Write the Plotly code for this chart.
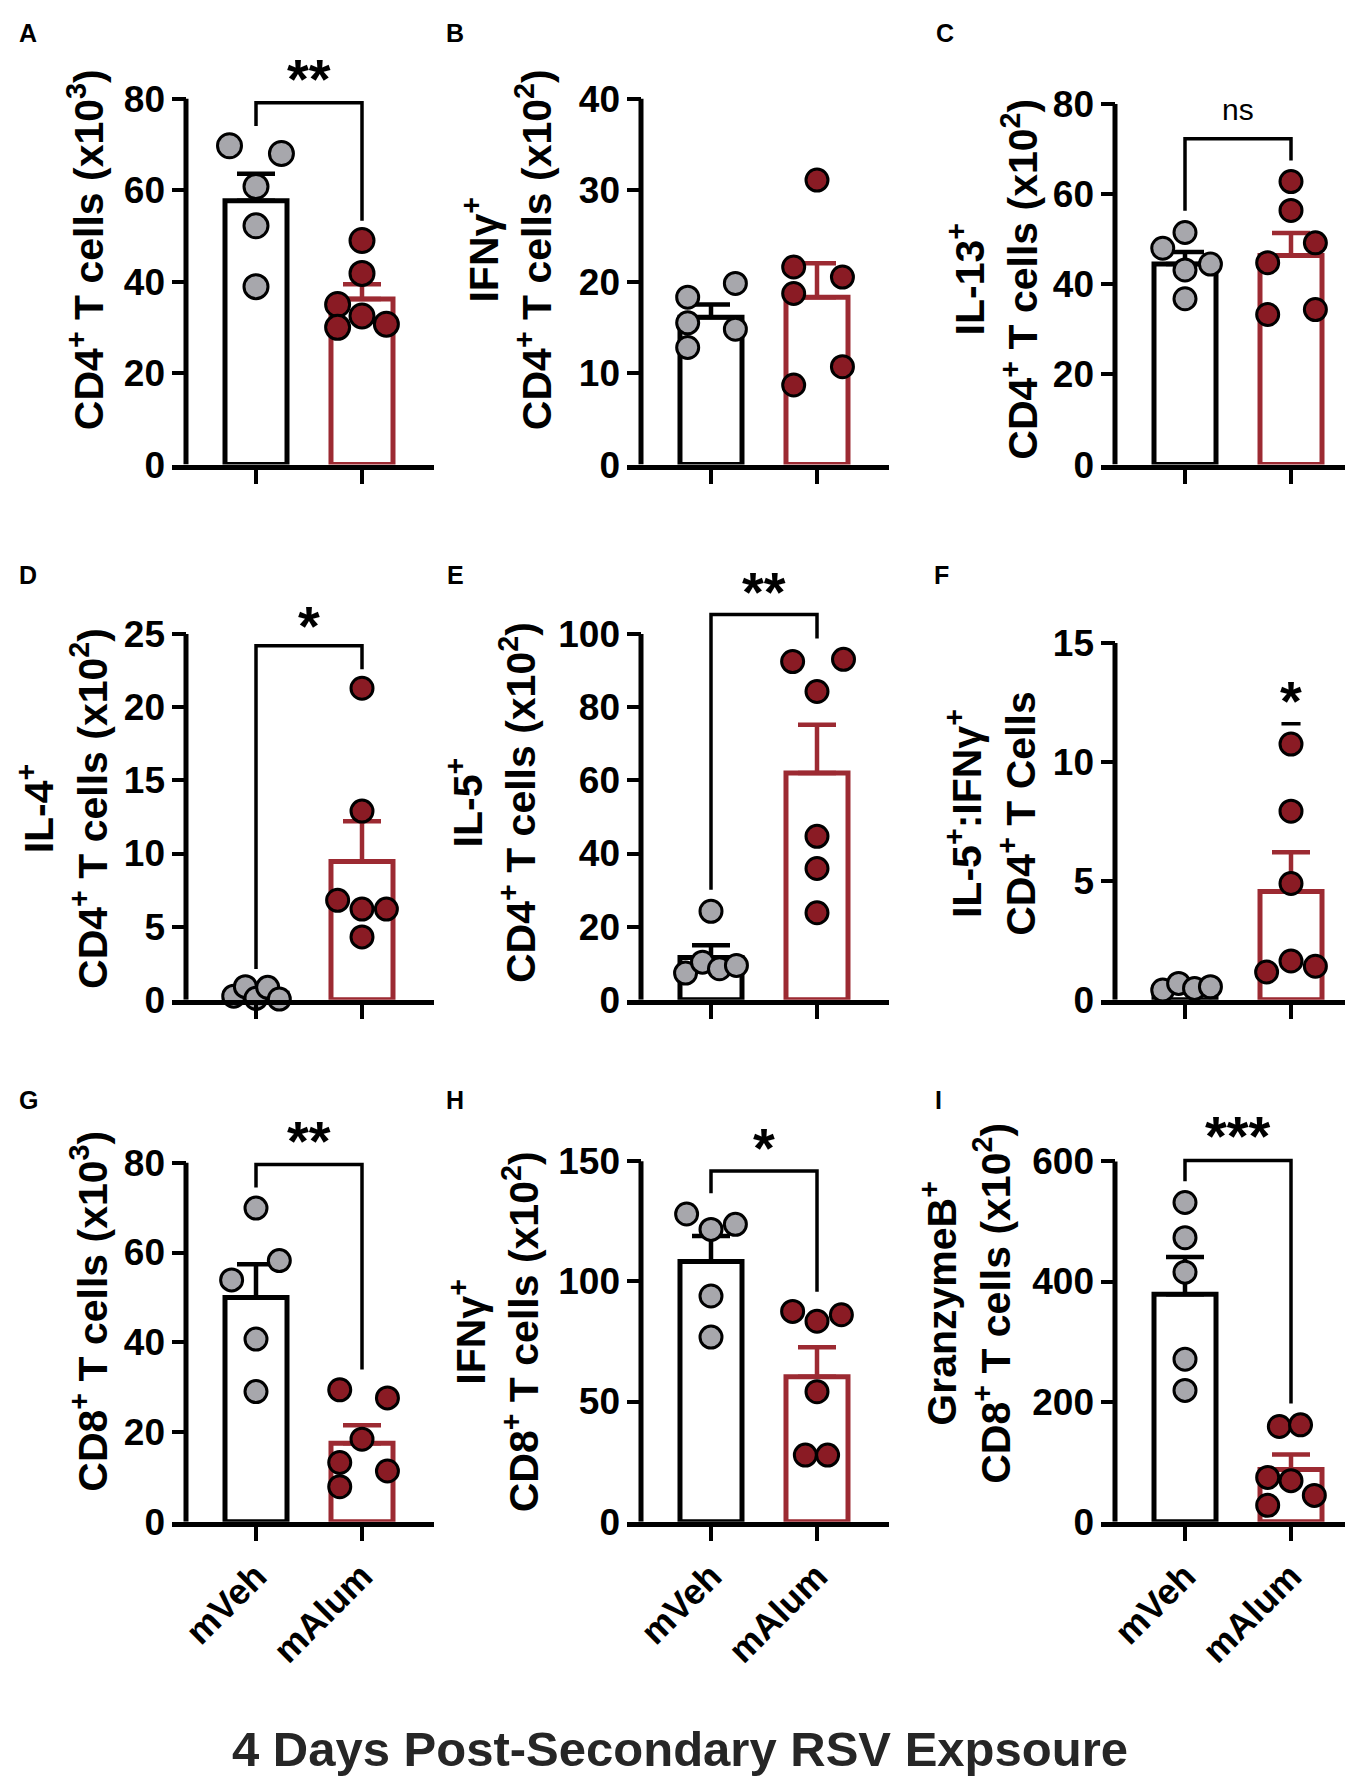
import plotly.graph_objects as go

W, H = 1353, 1790
GROUPS = ["mVeh", "mAlum"]

# ------------------------------------------------------------------
# DATA
# ------------------------------------------------------------------
A_mVeh = [69.7, 68.0, 60.8, 52.2, 38.9]
A_mAlum = [49.0, 41.8, 35.0, 32.5, 30.7, 30.0]
A_mean = [57.7, 36.2]
A_sem = [5.9, 3.2]
A_ticks = [0, 20, 40, 60, 80]
A_bracket = [74.0, 79.1, 53.3]
A_sig, A_sig_y = "**", 84.4

B_mVeh = [18.3, 19.8, 15.5, 14.8, 12.8]
B_mAlum = [31.1, 21.6, 20.5, 18.7, 10.7, 8.7]
B_mean = [16.1, 18.3]
B_sem = [1.4, 3.7]
B_ticks = [0, 10, 20, 30, 40]

C_mVeh = [51.5, 48.0, 44.5, 43.2, 36.8]
C_mAlum = [62.8, 56.4, 49.2, 44.8, 33.3, 34.4]
C_mean = [44.5, 46.4]
C_sem = [2.7, 5.0]
C_ticks = [0, 20, 40, 60, 80]
C_bracket = [56.3, 72.3, 67.5]
C_sig, C_sig_y = "ns", 78.4

D_mVeh = [0.25, 0.9, 0.1, 0.85, 0.05]
D_mAlum = [21.3, 12.9, 6.8, 6.2, 6.2, 4.3]
D_mean = [0.45, 9.45]
D_sem = [0.16, 2.75]
D_ticks = [0, 5, 10, 15, 20, 25]
D_bracket = [2.1, 24.2, 22.6]
D_sig, D_sig_y = "*", 25.6

E_mVeh = [24.2, 7.3, 10.3, 8.5, 9.4]
E_mAlum = [92.5, 93.1, 84.3, 44.7, 35.9, 23.8]
E_mean = [11.6, 62.0]
E_sem = [3.3, 13.2]
E_ticks = [0, 20, 40, 60, 80, 100]
E_bracket = [30.1, 105.4, 98.8]
E_sig, E_sig_y = "**", 111.7

F_mVeh = [0.41, 0.69, 0.48, 0.55]
F_mAlum = [10.75, 7.93, 4.89, 1.63, 1.17, 1.41]
F_mean = [0.53, 4.55]
F_sem = [0.06, 1.65]
F_ticks = [0, 5, 10, 15]
F_mark_y = 11.6
F_sig, F_sig_y = "*", 12.6

G_mVeh = [69.9, 58.2, 53.9, 40.7, 29.0]
G_mAlum = [29.4, 27.6, 18.4, 13.2, 11.3, 7.8]
G_mean = [50.0, 17.5]
G_sem = [7.4, 4.0]
G_ticks = [0, 20, 40, 60, 80]
G_bracket = [74.5, 79.6, 33.9]
G_sig, G_sig_y = "**", 84.9

H_mVeh = [128.0, 123.7, 121.6, 93.9, 76.8]
H_mAlum = [87.5, 86.1, 83.4, 54.1, 27.7, 27.7]
H_mean = [108.3, 60.3]
H_sem = [10.6, 12.3]
H_ticks = [0, 50, 100, 150]
H_bracket = [136.6, 145.9, 95.7]
H_sig, H_sig_y = "*", 155.7

I_mVeh = [531.6, 473.0, 415.6, 270.7, 218.7]
I_mAlum = [158.6, 161.3, 73.8, 68.4, 43.8, 27.3]
I_mean = [379.0, 87.0]
I_sem = [62.0, 25.0]
I_ticks = [0, 200, 400, 600]
I_bracket = [567.2, 601.6, 196.9]
I_sig, I_sig_y = "***", 642.6

TITLES = {
    "A": "CD4<sup>+</sup> T cells (x10<sup>3</sup>)",
    "B": "IFNγ<sup>+</sup><br>CD4<sup>+</sup> T cells (x10<sup>2</sup>)",
    "C": "IL-13<sup>+</sup><br>CD4<sup>+</sup> T cells (x10<sup>2</sup>)",
    "D": "IL-4<sup>+</sup><br>CD4<sup>+</sup> T cells (x10<sup>2</sup>)",
    "E": "IL-5<sup>+</sup><br>CD4<sup>+</sup> T cells (x10<sup>2</sup>)",
    "F": "IL-5<sup>+</sup>:IFNγ<sup>+</sup><br>CD4<sup>+</sup> T Cells",
    "G": "CD8<sup>+</sup> T cells (x10<sup>3</sup>)",
    "H": "IFNγ<sup>+</sup><br>CD8<sup>+</sup> T cells (x10<sup>2</sup>)",
    "I": "GranzymeB<sup>+</sup><br>CD8<sup>+</sup> T cells (x10<sup>2</sup>)",
}
MAIN_TITLE = "4 Days Post-Secondary RSV Expsoure"

PANELS = [
    dict(key="A", veh=A_mVeh, alum=A_mAlum, mean=A_mean, sem=A_sem, ticks=A_ticks, bracket=A_bracket, sig=A_sig, sig_y=A_sig_y, sig_x=0.5),
    dict(key="B", veh=B_mVeh, alum=B_mAlum, mean=B_mean, sem=B_sem, ticks=B_ticks, bracket=None, sig=None),
    dict(key="C", veh=C_mVeh, alum=C_mAlum, mean=C_mean, sem=C_sem, ticks=C_ticks, bracket=C_bracket, sig=C_sig, sig_y=C_sig_y, sig_x=0.5),
    dict(key="D", veh=D_mVeh, alum=D_mAlum, mean=D_mean, sem=D_sem, ticks=D_ticks, bracket=D_bracket, sig=D_sig, sig_y=D_sig_y, sig_x=0.5),
    dict(key="E", veh=E_mVeh, alum=E_mAlum, mean=E_mean, sem=E_sem, ticks=E_ticks, bracket=E_bracket, sig=E_sig, sig_y=E_sig_y, sig_x=0.5),
    dict(key="F", veh=F_mVeh, alum=F_mAlum, mean=F_mean, sem=F_sem, ticks=F_ticks, bracket=None, sig=F_sig, sig_y=F_sig_y, sig_x=1.0),
    dict(key="G", veh=G_mVeh, alum=G_mAlum, mean=G_mean, sem=G_sem, ticks=G_ticks, bracket=G_bracket, sig=G_sig, sig_y=G_sig_y, sig_x=0.5),
    dict(key="H", veh=H_mVeh, alum=H_mAlum, mean=H_mean, sem=H_sem, ticks=H_ticks, bracket=H_bracket, sig=H_sig, sig_y=H_sig_y, sig_x=0.5),
    dict(key="I", veh=I_mVeh, alum=I_mAlum, mean=I_mean, sem=I_sem, ticks=I_ticks, bracket=I_bracket, sig=I_sig, sig_y=I_sig_y, sig_x=0.5),
]

# ------------------------------------------------------------------
# LAYOUT / STYLE (geometry in pixels, jitter offsets)
# ------------------------------------------------------------------
UNIT = 106.0                 # px per category step
XL = -84 / UNIT              # left edge of plot area (end of y ticks)
SPINE = -70 / UNIT           # y axis spine position
XR = [1.68, 1.68, 1.66]      # right end of x axis per column
COL_LEFT = [164, 619, 1093]
ROW_ZERO = [456, 1000, 1530.5]

GEOM = {
    "A": dict(row=0, col=0, top_px=84, rtop=90, ms=24, title=(78, 238), letter=(20, 17)),
    "B": dict(row=0, col=1, top_px=84, rtop=42, ms=22, title=(500, 238), letter=(447, 17)),
    "C": dict(row=0, col=2, top_px=89.5, rtop=84, ms=22, title=(985, 268), letter=(937, 17)),
    "D": dict(row=1, col=0, top_px=628.3, rtop=27.5, ms=22, title=(55, 806), letter=(20, 568)),
    "E": dict(row=1, col=1, top_px=628.3, rtop=118, ms=22, title=(484, 800), letter=(447, 568)),
    "F": dict(row=1, col=2, top_px=637.3, rtop=15.5, ms=22, title=(983, 811), letter=(933, 568)),
    "G": dict(row=2, col=0, top_px=1165.7, rtop=90, ms=22, title=(81, 1317), letter=(20, 1102)),
    "H": dict(row=2, col=1, top_px=1164, rtop=165, ms=22, title=(487, 1338), letter=(447, 1102)),
    "I": dict(row=2, col=2, top_px=1164.3, rtop=670, ms=22, title=(958, 1308), letter=(930, 1102)),
}

JITTER = {
    "A": ([-0.25, 0.24, 0, 0, 0], [0, 0, -0.23, 0, 0.23, -0.23]),
    "B": ([-0.22, 0.23, -0.22, 0.23, -0.22], [0, -0.22, 0.24, -0.22, 0.24, -0.22]),
    "C": ([0, -0.21, 0.24, 0, 0], [0, 0, 0.23, -0.22, -0.22, 0.23]),
    "D": ([-0.21, -0.1, 0, 0.11, 0.22], [0, 0, -0.23, 0, 0.23, 0]),
    "E": ([0, -0.24, -0.08, 0.08, 0.24], [-0.23, 0.25, 0, 0, 0, 0]),
    "F": ([-0.21, -0.06, 0.09, 0.24], [0, 0, 0, 0, -0.23, 0.23]),
    "G": ([0, 0.22, -0.23, 0, 0], [-0.21, 0.24, 0, -0.21, 0.24, -0.21]),
    "H": ([-0.23, 0.23, 0, 0, 0], [-0.23, 0.23, 0, 0, -0.11, 0.1]),
    "I": ([0, 0, 0, 0, 0], [-0.11, 0.09, -0.22, 0, 0.22, -0.22]),
}

FONT = "Liberation Sans, Arial, Helvetica, sans-serif"
BLACK = "#000000"
RED_BAR = "#9c2a32"
RED_DOT = "#8a1b24"
GRAY_DOT = "#a7a7ac"
BAR_W = 0.585

fig = go.Figure()
layout_axes = {}
shapes = []
annotations = []

for i, p in enumerate(PANELS):
    n = i + 1
    sfx = "" if n == 1 else str(n)
    xa, ya = "x" + sfx, "y" + sfx
    g = GEOM[p["key"]]
    row, col = g["row"], g["col"]

    left = COL_LEFT[col]
    right = left + (XR[col] - XL) * UNIT
    xdom = [left / W, min(right / W, 1.0)]
    zero = ROW_ZERO[row]
    ppu = (zero - g["top_px"]) / p["ticks"][-1]
    ydom = [(H - zero) / H, min((H - (zero - g["rtop"] * ppu)) / H, 1.0)]

    # bars with upward SEM error bars
    for k, color in enumerate([BLACK, RED_BAR]):
        fig.add_trace(go.Bar(
            x=[k], y=[p["mean"][k]], width=BAR_W, xaxis=xa, yaxis=ya,
            marker=dict(color="white", line=dict(color=color, width=5)),
            error_y=dict(type="data", array=[p["sem"][k]], arrayminus=[0],
                         symmetric=False, color=color, thickness=4.5, width=19),
            showlegend=False, hoverinfo="skip"))

    # individual points
    dxv, dxa = JITTER[p["key"]]
    for k, (vals, dx, fill) in enumerate([(p["veh"], dxv, GRAY_DOT), (p["alum"], dxa, RED_DOT)]):
        fig.add_trace(go.Scatter(
            x=[k + d for d in dx], y=vals, mode="markers", xaxis=xa, yaxis=ya,
            cliponaxis=False,
            marker=dict(size=g["ms"], color=fill, line=dict(color=BLACK, width=3)),
            showlegend=False, hoverinfo="skip"))

    show_lbl = row == 2
    layout_axes["xaxis" + sfx] = dict(
        domain=xdom, range=[XL, XR[col]], anchor=ya,
        showline=True, linewidth=5, linecolor=BLACK,
        ticks="outside", ticklen=14, tickwidth=4, tickcolor=BLACK,
        tickmode="array", tickvals=[0, 1], ticktext=GROUPS,
        showticklabels=show_lbl, tickangle=-45,
        tickfont=dict(family=FONT, size=36, color=BLACK, weight="bold"),
        showgrid=False, zeroline=False, fixedrange=True)
    layout_axes["yaxis" + sfx] = dict(
        domain=ydom, range=[0, g["rtop"]], anchor=xa,
        showline=False,
        ticks="inside", ticklen=14, tickwidth=4, tickcolor=BLACK,
        tickmode="array", tickvals=p["ticks"],
        ticklabelstandoff=6,
        tickfont=dict(family=FONT, size=37, color=BLACK, weight="bold"),
        showgrid=False, zeroline=False, fixedrange=True)

    # y spine up to the top tick
    shapes.append(dict(type="line", xref=xa, yref=ya, x0=SPINE, x1=SPINE,
                       y0=0, y1=p["ticks"][-1], line=dict(color=BLACK, width=5)))

    # significance bracket
    if p["bracket"] is not None:
        yl, yt, yr = p["bracket"]
        shapes.append(dict(type="path", xref=xa, yref=ya,
                           path=f"M 0,{yl} L 0,{yt} L 1,{yt} L 1,{yr}",
                           line=dict(color=BLACK, width=3.5)))
    if p["key"] == "F":
        shapes.append(dict(type="line", xref=xa, yref=ya, x0=0.91, x1=1.09,
                           y0=F_mark_y, y1=F_mark_y, line=dict(color=BLACK, width=3.5)))

    if p["sig"]:
        if p["sig"] == "ns":
            annotations.append(dict(x=p["sig_x"], y=p["sig_y"], xref=xa, yref=ya,
                                    text=p["sig"], showarrow=False, yshift=2,
                                    font=dict(family=FONT, size=30, color=BLACK)))
        else:
            annotations.append(dict(x=p["sig_x"], y=p["sig_y"], xref=xa, yref=ya,
                                    text=p["sig"], showarrow=False, yshift=0,
                                    font=dict(family=FONT, size=56, color=BLACK, weight="bold")))

    # y title
    tx, ty = g["title"]
    annotations.append(dict(x=tx / W, y=1 - ty / H, xref="paper", yref="paper",
                            text=TITLES[p["key"]], textangle=-90, showarrow=False,
                            xanchor="center", yanchor="middle", align="center",
                            font=dict(family=FONT, size=41, color=BLACK, weight="bold")))
    # panel letter
    lx, ly = g["letter"]
    annotations.append(dict(x=lx / W, y=1 - ly / H, xref="paper", yref="paper",
                            text=p["key"], showarrow=False,
                            xanchor="center", yanchor="middle",
                            font=dict(family=FONT, size=25, color=BLACK, weight="bold")))

annotations.append(dict(x=672 / W, y=1 - 1762 / H, xref="paper", yref="paper",
                        text=MAIN_TITLE, showarrow=False, xanchor="center", yanchor="middle",
                        font=dict(family=FONT, size=49, color="#262626", weight="bold")))

fig.update_layout(
    width=W, height=H, margin=dict(l=0, r=0, t=0, b=0),
    paper_bgcolor="white", plot_bgcolor="rgba(0,0,0,0)",
    barmode="overlay", showlegend=False,
    shapes=shapes, annotations=annotations, **layout_axes)

fig.write_html("out.html")
